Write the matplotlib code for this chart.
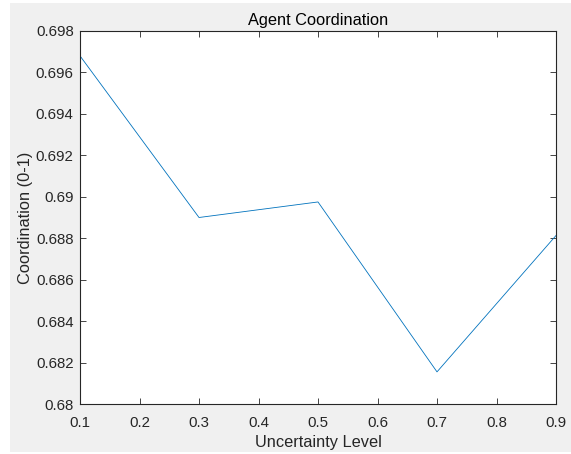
import matplotlib
matplotlib.use("Agg")
import matplotlib.pyplot as plt
from matplotlib.patches import Rectangle

# Coordination score per uncertainty level
uncertainty = [0.1, 0.3, 0.5, 0.7, 0.9]
coordination = [0.6968, 0.6890, 0.68975, 0.68155, 0.68813]

x_ticks = [0.1, 0.2, 0.3, 0.4, 0.5, 0.6, 0.7, 0.8, 0.9]
x_tick_labels = ["0.1", "0.2", "0.3", "0.4", "0.5", "0.6", "0.7", "0.8", "0.9"]
y_ticks = [0.68, 0.682, 0.684, 0.686, 0.688, 0.69, 0.692, 0.694, 0.696, 0.698]
y_tick_labels = ["0.68", "0.682", "0.684", "0.686", "0.688", "0.69",
                 "0.692", "0.694", "0.696", "0.698"]

plt.rcParams["font.family"] = ["Liberation Sans", "DejaVu Sans"]

W, H = 571, 454
fig = plt.figure(figsize=(W / 100, H / 100), dpi=100, facecolor="white")
# grey window background
fig.patches.append(Rectangle((10 / W, 2 / H), (W - 10) / W, (H - 5) / H,
                             transform=fig.transFigure, facecolor="#f0f0f0",
                             edgecolor="none", zorder=-1))

ax = fig.add_axes([80 / W, 1 - 404 / H, (556 - 80) / W, (404 - 31) / H])
ax.set_facecolor("white")
ax.plot(uncertainty, coordination, color="#0072BD", linewidth=0.6)

ax.set_xlim(0.1, 0.9)
ax.set_ylim(0.68, 0.698)
ax.set_xticks(x_ticks)
ax.set_xticklabels(x_tick_labels)
ax.set_yticks(y_ticks)
ax.set_yticklabels(y_tick_labels)

axis_color = "#262626"
for side in ax.spines.values():
    side.set_color(axis_color)
    side.set_linewidth(0.8)
ax.tick_params(direction="in", top=True, right=True, length=4, width=0.6,
               color=axis_color, labelcolor=axis_color, labelsize=10.8)
ax.tick_params(axis="x", pad=8.5)
ax.tick_params(axis="y", pad=4.5)

ax.set_xlabel("Uncertainty Level", fontsize=11.8, color=axis_color, labelpad=4)
ax.set_ylabel("Coordination (0-1)", fontsize=11.8, color=axis_color, labelpad=2)
ax.set_title("Agent Coordination", fontsize=11.8, color="black", pad=4)

fig.savefig("out.png", dpi=100, facecolor=fig.get_facecolor())
